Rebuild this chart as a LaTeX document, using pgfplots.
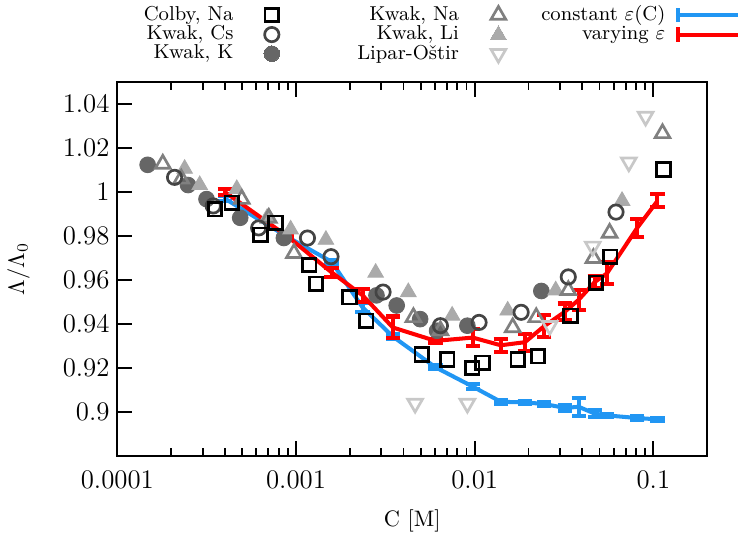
\documentclass[border=0pt]{standalone}
\usepackage{pgfplots}
\pgfplotsset{compat=1.18}
\usepackage{pgfplotstable}

\definecolor{cblue}{RGB}{33,150,243}
\definecolor{cred}{RGB}{255,0,0}
\definecolor{gK}{RGB}{102,102,102}
\definecolor{gCs}{RGB}{68,68,68}
\definecolor{gNa}{RGB}{128,128,128}
\definecolor{gLi}{RGB}{170,170,170}
\definecolor{gLO}{RGB}{200,200,200}

\pgfplotsset{
  mleg/.style={legend image code/.code={%
      \pgfpathmoveto{\pgfpoint{0bp}{0bp}}%
      \pgfpathlineto{\pgfpoint{17bp}{0bp}}%
      \pgfusepath{use as bounding box}%
      \draw[##1, draw=none] plot[only marks] coordinates {(8.5bp,0bp)};}},
  eleg/.style={legend image code/.code={%
      \draw[##1] (0bp,0bp) -- (27bp,0bp);
      \draw[##1] (0bp,-3.2bp) -- (0bp,3.2bp);}},
}

% Colby, Na
\pgfplotstableread{
C L
3.52e-4 0.9922
4.37e-4 0.9952
6.32e-4 0.9806
7.68e-4 0.9860
1.184e-3 0.9668
1.292e-3 0.9583
1.993e-3 0.9522
2.476e-3 0.9415
5.06e-3 0.9261
7.01e-3 0.9238
9.70e-3 0.9200
0.01105 0.9223
0.01742 0.9238
0.0226 0.9253
0.0344 0.9438
0.0478 0.9587
0.0574 0.9706
0.1139 1.0103
}\colby

% Kwak, Cs
\pgfplotstableread{
C L
2.09e-4 1.0067
3.44e-4 0.9937
6.18e-4 0.9837
1.159e-3 0.9791
1.57e-3 0.9706
3.07e-3 0.9545
6.43e-3 0.9392
0.01058 0.9407
0.0182 0.9453
0.0334 0.9614
0.0618 0.9909
}\kwakcs

% Kwak, K
\pgfplotstableread{
C L
1.477e-4 1.0124
2.486e-4 1.0032
3.155e-4 0.9968
4.87e-4 0.9883
8.55e-4 0.9791
2.82e-3 0.9530
3.66e-3 0.9484
4.95e-3 0.9422
6.16e-3 0.9369
9.10e-3 0.9392
0.0236 0.9550
}\kwakk

% Kwak, Na
\pgfplotstableread{
C L
1.796e-4 1.0128
2.28e-4 1.0060
4.97e-4 0.9968
7.04e-4 0.9882
9.74e-4 0.9722
4.54e-3 0.9430
6.43e-3 0.9370
0.01633 0.9384
0.0221 0.9430
0.0334 0.9553
0.0462 0.9699
0.0569 0.9814
0.1125 1.0267
}\kwakna

% Kwak, Li
\pgfplotstableread{
C L
2.38e-4 1.0106
2.89e-4 1.0032
4.66e-4 1.0014
6.89e-4 0.9883
9.33e-4 0.9830
1.47e-3 0.9783
2.79e-3 0.9633
4.25e-3 0.9545
7.48e-3 0.9438
0.0153 0.9461
0.0284 0.9553
0.0668 0.9960
}\kwakli

% Lipar-Ostir
\pgfplotstableread{
C L
4.64e-3 0.9038
9.10e-3 0.9038
0.0263 0.9392
0.0458 0.9753
0.0729 1.0136
0.0905 1.0344
}\lipar

% constant epsilon(C)
\pgfplotstableread{
C L e
4.0e-4 0.9970 0.0010
8.9e-4 0.9797 0.0008
1.58e-3 0.9683 0.0008
2.36e-3 0.9475 0.0020
3.48e-3 0.9343 0.0010
6.03e-3 0.9203 0.0008
9.75e-3 0.9115 0.0010
0.0140 0.9046 0.0008
0.0191 0.9043 0.0008
0.0245 0.9036 0.0008
0.0319 0.9018 0.0015
0.0382 0.9023 0.0042
0.0470 0.8992 0.0015
0.0550 0.8984 0.0008
0.0812 0.8972 0.0008
0.1054 0.8966 0.0008
}\constant

% varying epsilon
\pgfplotstableread{
C L e
4.0e-4 1.0000 0.0015
8.9e-4 0.9800 0.0010
1.58e-3 0.9635 0.0020
2.36e-3 0.9530 0.0030
3.48e-3 0.9384 0.0050
6.03e-3 0.9323 0.0010
9.75e-3 0.9338 0.0038
0.0140 0.9303 0.0030
0.0191 0.9317 0.0038
0.0245 0.9390 0.0050
0.0319 0.9455 0.0038
0.0382 0.9510 0.0046
0.0470 0.9591 0.0027
0.0550 0.9630 0.0050
0.0812 0.9837 0.0042
0.1054 0.9960 0.0030
}\varying

\begin{document}
\begin{tikzpicture}
\begin{axis}[
  scale only axis,
  width=262.8bp, height=166.5bp,
  xmode=log,
  xmin=1e-4, xmax=0.2,
  ymin=0.88, ymax=1.05,
  xtick={1e-4,1e-3,1e-2,1e-1},
  xticklabels={0.0001,0.001,0.01,0.1},
  ytick={0.9,0.92,0.94,0.96,0.98,1,1.02,1.04},
  yticklabel style={/pgf/number format/fixed},
  xticklabel style={yshift=-3bp},
  xtick pos=both, ytick pos=left,
  tick align=inside,
  major tick length=6.5bp, minor tick length=3.5bp,
  every tick/.style={black, line width=0.8bp},
  axis line style={line width=0.9bp},
  tick label style={font=\fontsize{12}{14}\selectfont},
  label style={font=\fontsize{12}{14}\selectfont},
  xlabel={C [M]},
  ylabel={$\Lambda/\Lambda_0$},
  every axis x label/.style={at={(axis description cs:0.5,0)}, yshift=-29bp, anchor=center},
  every axis y label/.style={at={(axis description cs:0,0.5)}, xshift=-44bp, rotate=90, anchor=center},
  legend columns=3,
  legend cell align=right,
  legend plot pos=right,
  legend style={draw=none, fill=none,
    at={(axis description cs:0,1)}, anchor=south west,
    xshift=8bp, yshift=6bp,
    font=\fontsize{9}{10}\selectfont,
    nodes={inner sep=0.6pt},
    row sep=-0.5bp,
    /tikz/column 1/.style={column sep=8bp},
    /tikz/column 2/.style={column sep=29bp},
    /tikz/column 3/.style={column sep=8.5bp},
    /tikz/column 4/.style={column sep=10bp},
    /tikz/column 5/.style={column sep=4bp}},
]
% data sets
\addplot[forget plot, only marks, mark=*, mark size=3.5bp, gK, mark options={draw=none, fill=gK}] table[x=C, y=L] {\kwakk};
\addplot[forget plot, only marks, mark=triangle*, mark size=4bp, gLi, mark options={draw=none, fill=gLi}] table[x=C, y=L] {\kwakli};
\addplot[forget plot, only marks, mark=triangle, mark size=3.8bp, gNa, mark options={line width=1.2bp}] table[x=C, y=L] {\kwakna};
\addplot[forget plot, only marks, mark=o, mark size=3.2bp, gCs, mark options={line width=1.2bp}] table[x=C, y=L] {\kwakcs};
\addplot[forget plot, only marks, mark=triangle, mark size=3.8bp, gLO, mark options={line width=1.2bp, rotate=180}] table[x=C, y=L] {\lipar};
\addplot[forget plot, only marks, mark=square, mark size=3bp, black, mark options={line width=1.2bp}] table[x=C, y=L] {\colby};
% model curves
\addplot[forget plot, cblue, line width=1.8bp, no marks,
  error bars/.cd, y dir=both, y explicit, error bar style={line width=1.8bp, cblue},
  error mark options={cblue, line width=1.8bp, mark size=3.2bp, rotate=90}]
  table[x=C, y=L, y error=e] {\constant};
\addplot[forget plot, cred, line width=1.8bp, no marks,
  error bars/.cd, y dir=both, y explicit, error bar style={line width=1.8bp, cred},
  error mark options={cred, line width=1.8bp, mark size=3.2bp, rotate=90}]
  table[x=C, y=L, y error=e] {\varying};
% legend (row-major order)
\addlegendimage{mleg, black, mark=square, mark size=3bp, mark options={draw=black, line width=1.2bp}}
\addlegendentry{Colby, Na}
\addlegendimage{mleg, gNa, mark=triangle, mark size=3.8bp, mark options={draw=gNa, line width=1.2bp}}
\addlegendentry{Kwak, Na}
\addlegendimage{eleg, cblue, line width=1.8bp}
\addlegendentry{constant $\varepsilon$(C)}
\addlegendimage{mleg, gCs, mark=o, mark size=3.2bp, mark options={draw=gCs, line width=1.2bp}}
\addlegendentry{Kwak, Cs}
\addlegendimage{mleg, gLi, fill=gLi, mark=triangle*, mark size=4bp, mark options={draw=gLi, fill=gLi, line width=0pt}}
\addlegendentry{Kwak, Li}
\addlegendimage{eleg, cred, line width=1.8bp}
\addlegendentry{varying $\varepsilon$}
\addlegendimage{mleg, gK, fill=gK, mark=*, mark size=3.5bp, mark options={draw=gK, fill=gK, line width=0pt}}
\addlegendentry{Kwak, K}
\addlegendimage{mleg, gLO, mark=triangle, mark size=3.8bp, mark options={draw=gLO, line width=1.2bp, rotate=180}}
\addlegendentry{Lipar-Oštir}
\addlegendimage{empty legend}
\addlegendentry{}
\end{axis}
\end{tikzpicture}
\end{document}
